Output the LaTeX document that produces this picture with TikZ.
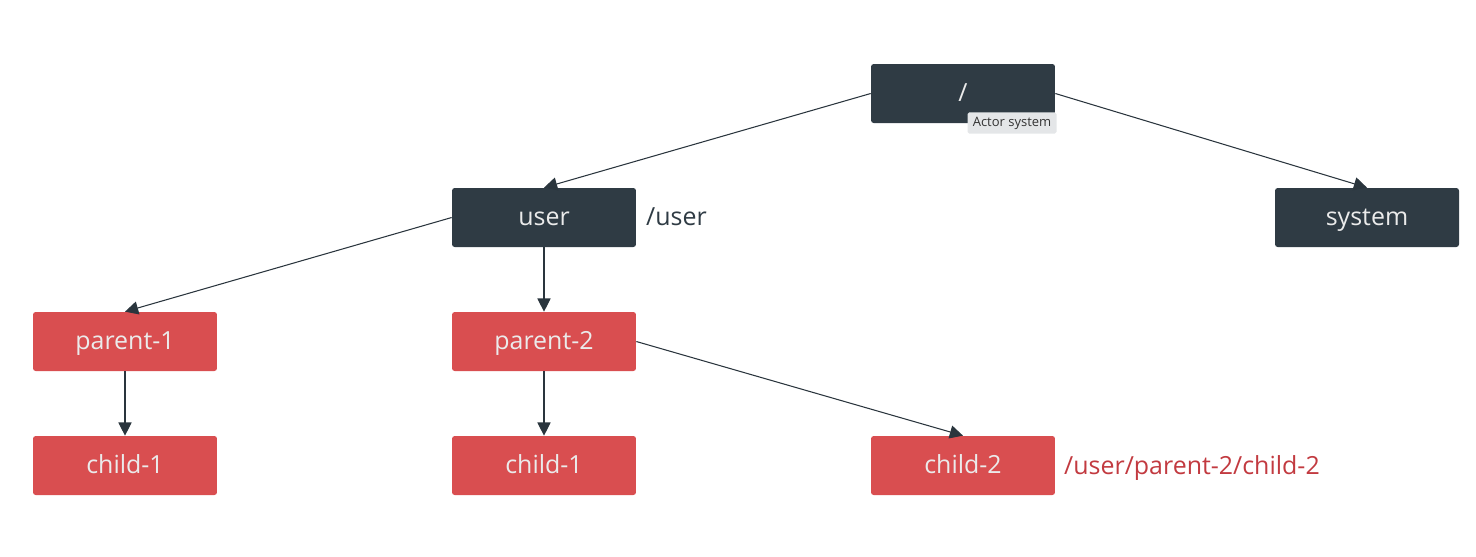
\documentclass[tikz,border=0pt]{standalone}
\usepackage{fontspec}
\setmainfont{Open Sans}
\usetikzlibrary{arrows.meta,positioning}

\definecolor{slate}{HTML}{2F3B44}
\definecolor{brick}{HTML}{D94E50}
\definecolor{pathred}{HTML}{C23A40}
\definecolor{tipgray}{HTML}{E4E6E8}

\tikzset{
    darkbox/.style={shape=rectangle,rounded corners=1.5pt,fill=slate,text=white!92!black,
        minimum width=3.68cm,minimum height=1.18cm,text height=11.6pt,text depth=2.2pt,
        font=\fontsize{14.2}{16}\selectfont},
    redbox/.style={darkbox,fill=brick},
    pathlabel/.style={anchor=west,text height=11.6pt,text depth=2.2pt,font=\fontsize{14.2}{16}\selectfont},
    link/.style={-{Triangle[length=7.5pt,width=7.5pt]},draw=slate!90!black,line width=0.6pt}
}

\begin{document}
\begin{tikzpicture}[x=0.02cm,y=-0.02cm]
        \useasboundingbox (0,0) rectangle (1476,556);
        \node[darkbox] (root)   at (963,93.5)   {/};
        \node[darkbox] (user)   at (544,217.5)  {user};
        \node[darkbox] (system) at (1367,217.5) {system};
        \node[redbox]  (p1)     at (125,341.5)  {parent-1};
        \node[redbox]  (p2)     at (544,341.5)  {parent-2};
        \node[redbox]  (c1a)    at (125,465.5)  {child-1};
        \node[redbox]  (c1b)    at (544,465.5)  {child-1};
        \node[redbox]  (c2)     at (963,465.5)  {child-2};

        \node[pathlabel,text=slate] (userpath) at (640,217.5) {/user};
        \node[pathlabel,text=pathred] (c2path) at (1058,466.5) {/user/parent-2/child-2};
        \node[fill=tipgray,rounded corners=1pt,inner xsep=3pt,inner ysep=2.5pt,font=\fontsize{7.4}{9}\selectfont,text=black!80] (tip) at (1012,123) {Actor system};

        \path (root.west) edge[link] (user.north);
        \path (root.east) edge[link] (system.north);
        \path (user.west) edge[link] (p1.north);
        \path (user) edge[link] (p2);
        \path (p1) edge[link] (c1a);
        \path (p2) edge[link] (c1b);
        \path (p2.east) edge[link] (c2.north);

    \end{tikzpicture}
\end{document}
